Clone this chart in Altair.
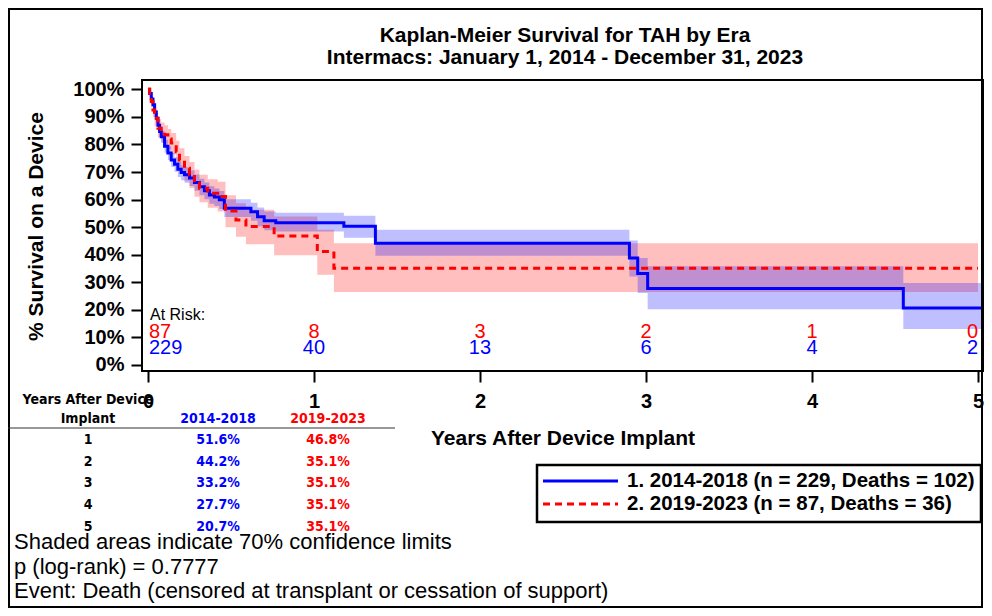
import altair as alt
import pandas as pd

# ---------------- data ----------------
groups = ["2014-2018", "2019-2023"]
group_n = [229, 87]
group_deaths = [102, 36]

# Era 1: 2014-2018 (blue)
blue_t = [0, 0.01, 0.02, 0.03, 0.04, 0.05, 0.06, 0.07, 0.08, 0.10, 0.12, 0.14, 0.16, 0.18,
          0.20, 0.22, 0.25, 0.28, 0.31, 0.34, 0.37, 0.40, 0.43, 0.46, 0.62, 0.66, 0.70, 0.77,
          1.18, 1.37, 2.90, 2.95, 3.01, 4.55, 5.03]
blue_s = [100, 98.5, 96.5, 94.4, 91.8, 89.5, 87.0, 84.7, 82.8, 79.4, 76.9, 74.4, 72.8, 71.0,
          69.8, 69.0, 67.8, 66.2, 64.7, 63.2, 61.7, 60.9, 59.9, 56.9, 55.6, 53.8, 52.3, 51.6,
          50.3, 44.2, 38.8, 33.2, 27.7, 20.7, 20.7]
blue_lo = [100, 97.5, 95.2, 92.9, 90.1, 87.6, 85.0, 82.5, 80.5, 77.0, 74.4, 71.8, 70.1, 68.2,
           67.0, 66.1, 64.9, 63.2, 61.6, 60.1, 58.5, 57.7, 56.6, 53.7, 52.3, 50.3, 48.9, 48.4,
           46.2, 39.6, 32.1, 26.1, 20.2, 13.0, 13.0]
blue_hi = [100, 99.2, 97.8, 96.0, 93.5, 91.4, 89.0, 86.8, 85.0, 81.7, 79.4, 76.9, 75.4, 73.6,
           72.5, 71.7, 70.6, 69.1, 67.6, 66.2, 64.8, 64.0, 63.1, 60.1, 58.9, 57.1, 55.7, 55.2,
           54.1, 49.1, 45.2, 38.8, 35.8, 29.7, 29.7]

# Era 2: 2019-2023 (red)
red_t = [0, 0.01, 0.02, 0.03, 0.04, 0.06, 0.08, 0.10, 0.12, 0.14, 0.17, 0.19, 0.22, 0.25,
         0.28, 0.31, 0.36, 0.42, 0.467, 0.53, 0.59, 0.76, 1.02, 1.12, 5.0]
red_s = [100, 98.0, 95.6, 92.5, 89.5, 85.9, 84.6, 83.5, 82.0, 80.5, 77.4, 74.4, 71.4, 69.0,
         66.0, 64.1, 62.3, 61.1, 55.9, 52.6, 50.2, 46.8, 41.2, 35.1, 35.1]
red_lo = [100, 96.5, 93.5, 89.9, 86.5, 82.5, 81.0, 79.8, 78.2, 76.5, 73.2, 70.0, 66.8, 64.2,
          61.0, 59.0, 57.0, 55.7, 50.0, 46.5, 43.8, 39.8, 32.7, 26.5, 26.5]
red_hi = [100, 99.2, 97.5, 95.0, 92.4, 89.2, 88.0, 87.0, 85.6, 84.2, 81.4, 78.6, 75.8, 73.6,
          70.8, 69.0, 67.4, 66.5, 61.6, 58.7, 56.3, 53.9, 49.1, 44.2, 44.2]

# Numbers at risk
risk_years = [0, 1, 2, 3, 4, 5]
risk_blue = [229, 40, 13, 6, 4, 2]
risk_red = [87, 8, 3, 2, 1, 0]

# Survival table
table_years = [1, 2, 3, 4, 5]
table_blue = [51.6, 44.2, 33.2, 27.7, 20.7]
table_red = [46.8, 35.1, 35.1, 35.1, 35.1]

footnotes = [
    "Shaded areas indicate 70% confidence limits",
    "p (log-rank) = 0.7777",
    "Event: Death (censored at transplant or cessation of support)",
]

title_lines = ["Kaplan-Meier Survival for TAH by Era",
               "Intermacs: January 1, 2014 - December 31, 2023"]

# ---------------- styling ----------------
BLUE = "#0000FF"
RED = "#FF0000"
FONT = "Liberation Sans"
TFONT = "DejaVu Sans Condensed, Liberation Sans Narrow, sans-serif"

W, H = 841, 291
xscale = alt.Scale(domain=[-0.036, 5.03], nice=False, zero=False)
yscale = alt.Scale(domain=[-2.2, 103.4], nice=False, zero=False)

xaxis = alt.Axis(values=[0, 1, 2, 3, 4, 5], format="d", title="Years After Device Implant",
                 labelFont=FONT, labelFontSize=20, labelFontWeight="bold", labelColor="black",
                 tickSize=11, tickWidth=2, tickColor="black", labelPadding=9,
                 domain=False, grid=False, titleFont=FONT, titleFontSize=21,
                 titleFontWeight="bold", titleColor="black", titleBaseline="middle",
                 titleY=67)
yaxis = alt.Axis(values=list(range(0, 101, 10)), labelExpr="datum.value + '%'",
                 title="% Survival on a Device",
                 labelFont=FONT, labelFontSize=20, labelFontWeight="bold", labelColor="black",
                 tickSize=11, tickWidth=2, tickColor="black", labelPadding=7,
                 domain=False, grid=False, titleFont=FONT, titleFontSize=21,
                 titleFontWeight="bold", titleColor="black", titleBaseline="middle",
                 titleX=-106, titleY=146)

blue_df = pd.DataFrame({"t": blue_t, "s": blue_s, "lo": blue_lo, "hi": blue_hi})
red_df = pd.DataFrame({"t": red_t, "s": red_s, "lo": red_lo, "hi": red_hi})


def band(df, color):
    return alt.Chart(df).mark_area(interpolate="step-after", color=color, opacity=0.25).encode(
        x=alt.X("t:Q", scale=xscale, axis=xaxis),
        y=alt.Y("lo:Q", scale=yscale, axis=yaxis),
        y2="hi:Q",
    )


blue_band = band(blue_df, BLUE)
red_band = band(red_df, RED)

blue_line = alt.Chart(blue_df).mark_line(interpolate="step-after", color=BLUE, strokeWidth=3).encode(
    x=alt.X("t:Q", scale=xscale, axis=xaxis),
    y=alt.Y("s:Q", scale=yscale, axis=yaxis),
)

red_line = alt.Chart(red_df).mark_line(interpolate="step-after", color=RED, strokeWidth=3,
                                       strokeDash=[7, 5]).encode(
    x=alt.X("t:Q", scale=xscale, axis=xaxis),
    y=alt.Y("s:Q", scale=yscale, axis=yaxis),
)

# ---------------- numbers at risk ----------------
risk_df = pd.DataFrame({"year": risk_years, "blue": risk_blue, "red": risk_red})


def risk_layer(field, color, ypix, cond, align, dx):
    return alt.Chart(risk_df).transform_filter(cond).mark_text(
        font=FONT, fontSize=20, color=color, align=align, baseline="middle", dx=dx
    ).encode(
        x=alt.X("year:Q", scale=xscale, axis=xaxis),
        y=alt.value(ypix),
        text=alt.Text(f"{field}:Q"),
    )


risk_layers = []
for field, color, ypix in [("red", RED, 252), ("blue", BLUE, 268)]:
    risk_layers.append(risk_layer(field, color, ypix, "datum.year == 0", "left", 1))
    risk_layers.append(risk_layer(field, color, ypix, "datum.year > 0 && datum.year < 5", "center", 0))
    risk_layers.append(risk_layer(field, color, ypix, "datum.year == 5", "right", 0))

at_risk_label = alt.Chart(pd.DataFrame({"l": ["At Risk:"]})).mark_text(
    font=FONT, fontSize=16, color="black", align="left", baseline="middle"
).encode(x=alt.value(8), y=alt.value(235), text="l:N")

# ---------------- title ----------------
title_df = pd.DataFrame({"txt": title_lines, "i": list(range(len(title_lines)))})
title = alt.Chart(title_df).transform_calculate(py="-44 + 22 * datum.i").mark_text(
    font=FONT, fontSize=21, fontWeight="bold", color="black", align="center", baseline="middle"
).encode(x=alt.value(423), y=alt.Y("py:Q", scale=None, axis=None), text="txt:N")

# ---------------- survival table ----------------
tab_df = pd.DataFrame({"year": table_years, "blue": table_blue, "red": table_red,
                       "i": list(range(len(table_years)))})

tab_base = alt.Chart(tab_df).transform_calculate(
    py="360 + 21.7 * datum.i",
    bl="format(datum.blue, '.1f') + '%'",
    rl="format(datum.red, '.1f') + '%'",
)


def tab_col(field, px, color):
    return tab_base.mark_text(font=TFONT, fontSize=14, fontWeight="bold", color=color,
                              align="center", baseline="middle").encode(
        x=alt.value(px),
        y=alt.Y("py:Q", scale=None, axis=None),
        text=alt.Text(field, type="nominal"),
    )


tab_years = tab_col("year", -54, "black")
tab_bcol = tab_col("bl", 76, BLUE)
tab_rcol = tab_col("rl", 186, RED)

hdr_df = pd.DataFrame({
    "txt": ["Years After Device", "Implant", groups[0], groups[1]],
    "px": [-54, -54, 76, 186],
    "py": [320, 339, 339, 339],
    "c": ["black", "black", BLUE, RED],
})
tab_hdr = alt.Chart(hdr_df).mark_text(font=TFONT, fontSize=14, fontWeight="bold",
                                      align="center", baseline="middle").encode(
    x=alt.X("px:Q", scale=None, axis=None),
    y=alt.Y("py:Q", scale=None, axis=None),
    text="txt:N",
    color=alt.Color("c:N", scale=None, legend=None),
)
tab_rule = alt.Chart(pd.DataFrame({"a": [0]})).mark_rule(color="#333333", strokeWidth=1.2).encode(
    x=alt.value(-134), x2=alt.value(253), y=alt.value(348)
)

# ---------------- legend ----------------
leg_box = alt.Chart(pd.DataFrame({"a": [0]})).mark_rect(
    fill="white", stroke="black", strokeWidth=2.5
).encode(x=alt.value(395), x2=alt.value(839), y=alt.value(385), y2=alt.value(442))

leg_df = pd.DataFrame({
    "lab": [f"{k + 1}. {g} (n = {n}, Deaths = {d})"
            for k, (g, n, d) in enumerate(zip(groups, group_n, group_deaths))],
    "py": [401, 424],
})
leg_text = alt.Chart(leg_df).mark_text(font=FONT, fontSize=20.5, fontWeight="bold", color="black",
                                       align="left", baseline="middle").encode(
    x=alt.value(485), y=alt.Y("py:Q", scale=None, axis=None), text="lab:N"
)
leg_blue = alt.Chart(pd.DataFrame({"a": [0]})).mark_rule(color=BLUE, strokeWidth=3).encode(
    x=alt.value(401), x2=alt.value(476), y=alt.value(401)
)
leg_red = alt.Chart(pd.DataFrame({"a": [0]})).mark_rule(color=RED, strokeWidth=3,
                                                        strokeDash=[7, 5]).encode(
    x=alt.value(401), x2=alt.value(476), y=alt.value(424)
)

# ---------------- footnotes ----------------
foot_df = pd.DataFrame({"txt": footnotes, "i": list(range(len(footnotes)))})
foot = alt.Chart(foot_df).transform_calculate(py="462 + 24.5 * datum.i").mark_text(
    font=FONT, fontSize=22, color="black", align="left", baseline="middle"
).encode(x=alt.value(-128), y=alt.Y("py:Q", scale=None, axis=None), text="txt:N")

# ---------------- outer frame ----------------
outer = alt.Chart(pd.DataFrame({"a": [0]})).mark_rect(
    fillOpacity=0, stroke="black", strokeWidth=2
).encode(x=alt.value(-133), x2=alt.value(840), y=alt.value(-71), y2=alt.value(527))

chart = alt.layer(
    red_band, blue_band, blue_line, red_line, outer, title, at_risk_label, *risk_layers,
    tab_hdr, tab_rule, tab_years, tab_bcol, tab_rcol,
    leg_box, leg_blue, leg_red, leg_text, foot,
).properties(
    width=W, height=H,
    padding={"left": 134, "top": 72, "right": 1, "bottom": 237},
    autosize=alt.AutoSizeParams(type="none"),
).configure_view(stroke="black", strokeWidth=2)

chart.save("out.html", embed_options={"renderer": "svg", "actions": False})
